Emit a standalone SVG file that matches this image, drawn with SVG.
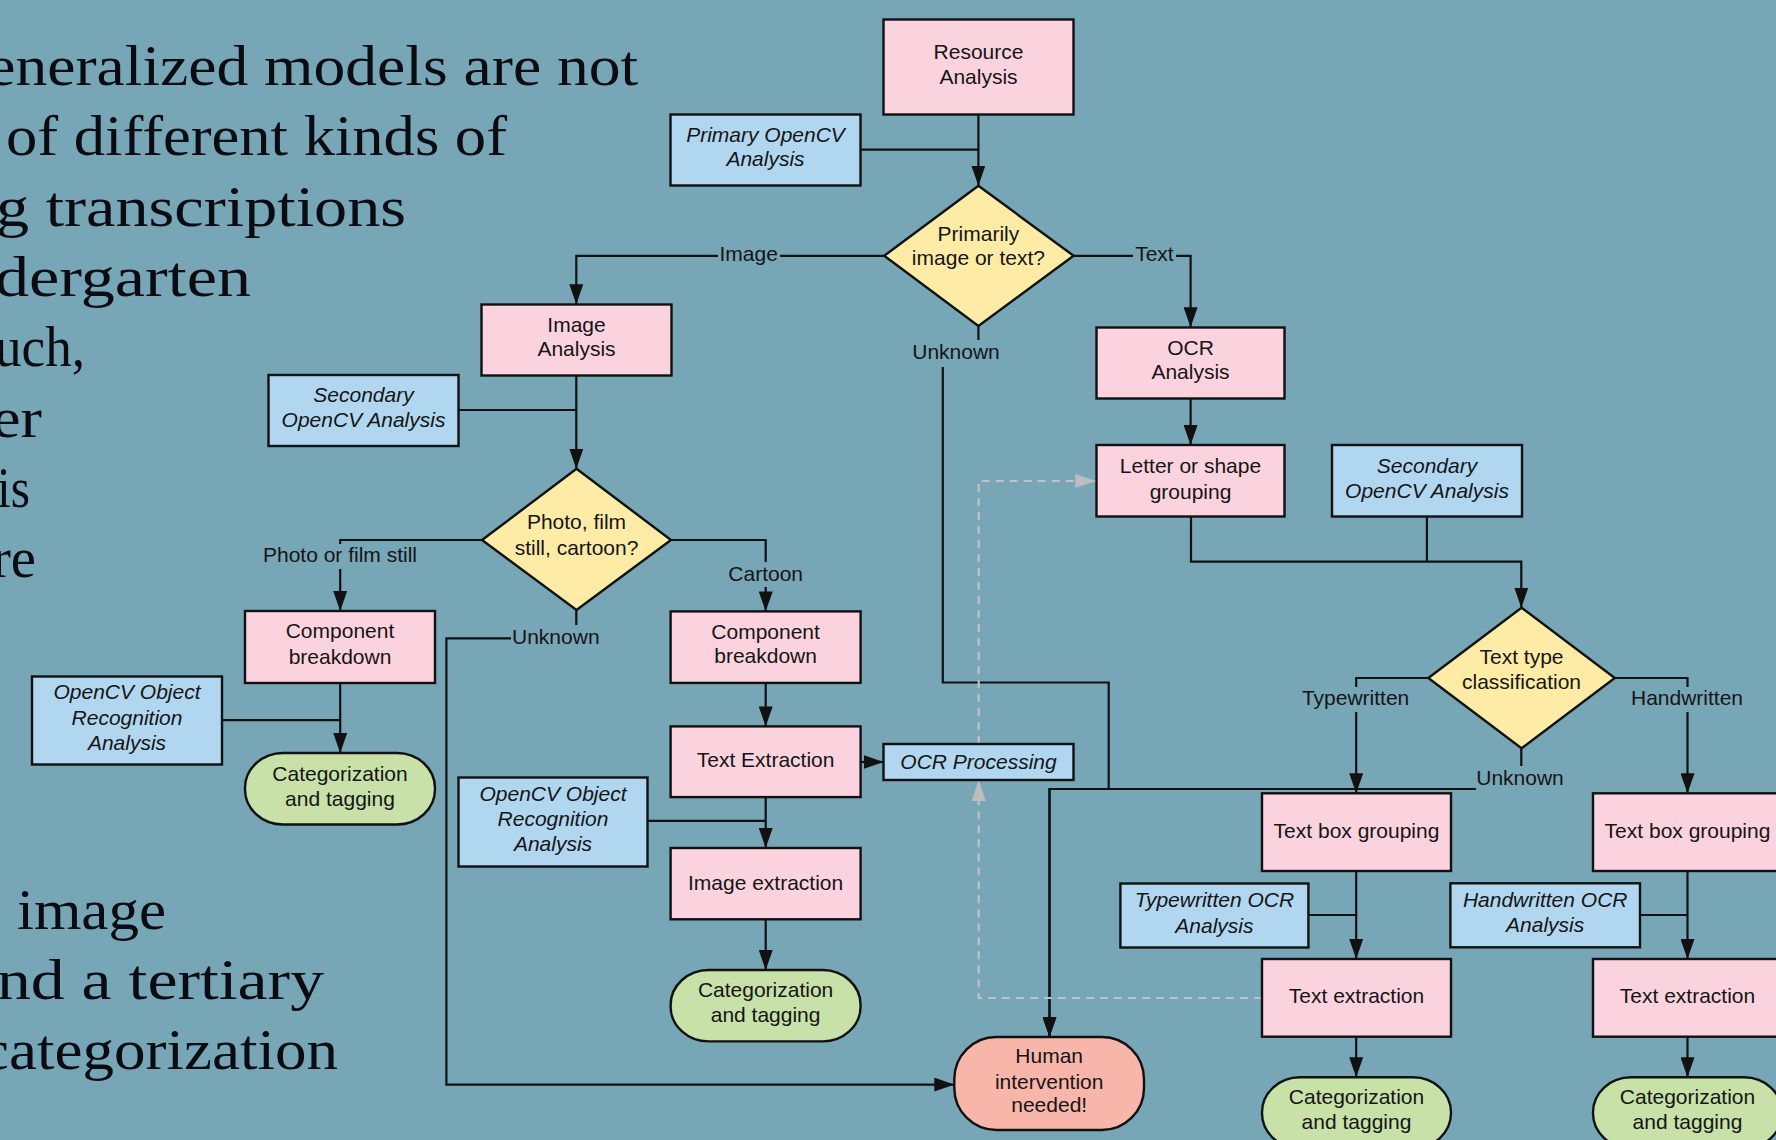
<svg xmlns="http://www.w3.org/2000/svg" width="1776" height="1140" viewBox="0 0 1776 1140">
<defs>
<style>
.bg{fill:#77a6b7}
.serif{font-family:"Liberation Serif","Times New Roman",serif;font-size:58px;fill:#0b0b12}
.pink{fill:#fbd3de;stroke:#111;stroke-width:2.4}
.blue{fill:#b1d7f0;stroke:#111;stroke-width:2.4}
.yellow{fill:#feeca6;stroke:#111;stroke-width:2.4}
.green{fill:#c7e1a8;stroke:#111;stroke-width:2.4}
.salmon{fill:#f8b6aa;stroke:#111;stroke-width:2.4}
.t{font-family:"Liberation Sans",Arial,sans-serif;font-size:21px;fill:#151515;text-anchor:middle}
.i{font-style:italic}
.c{fill:none;stroke:#111;stroke-width:2.2}
.ca{fill:none;stroke:#111;stroke-width:2.2;marker-end:url(#ah)}
.d{fill:none;stroke:#c2c2c2;stroke-width:2.2;stroke-dasharray:8 6;marker-end:url(#gh)}
.lb{fill:#77a6b7}
</style>
<marker id="ah" markerWidth="20" markerHeight="14" refX="20" refY="7" orient="auto" markerUnits="userSpaceOnUse"><path d="M0,0 L20,7 L0,14 z" fill="#111"/></marker>
<marker id="gh" markerWidth="21" markerHeight="14" refX="21" refY="7" orient="auto" markerUnits="userSpaceOnUse"><path d="M0,0 L21,7 L0,14 z" fill="#bdbdbd"/></marker>
</defs>
<rect class="bg" x="0" y="0" width="1776" height="1140"/>

<g id="slide-text" class="serif">
<text x="-12.8" y="85" textLength="651" lengthAdjust="spacingAndGlyphs">eneralized models are not</text>
<text x="6" y="155.3" textLength="501" lengthAdjust="spacingAndGlyphs">of different kinds of</text>
<text x="-4" y="225.6" textLength="410" lengthAdjust="spacingAndGlyphs">g transcriptions</text>
<text x="-5" y="295.9" textLength="256" lengthAdjust="spacingAndGlyphs">dergarten</text>
<text x="-5" y="366.2" textLength="90" lengthAdjust="spacingAndGlyphs">uch,</text>
<text x="-8" y="436.5" textLength="50" lengthAdjust="spacingAndGlyphs">er</text>
<text x="-3" y="506.8" textLength="33" lengthAdjust="spacingAndGlyphs">is</text>
<text x="-8" y="577.1" textLength="44" lengthAdjust="spacingAndGlyphs">re</text>
<text x="17" y="928.6" textLength="149" lengthAdjust="spacingAndGlyphs">image</text>
<text x="-3" y="998.9" textLength="327" lengthAdjust="spacingAndGlyphs">nd a tertiary</text>
<text x="-19" y="1069.2" textLength="357" lengthAdjust="spacingAndGlyphs">categorization</text>
</g>

<g id="connectors">
<path class="ca" d="M978.4,114.3 V185.7"/>
<path class="c" d="M860.5,149.7 H978.4"/>
<path class="ca" d="M884.2,255.8 H576.3 V304.2"/>
<path class="ca" d="M1073.6,255.8 H1190.6 V327.3"/>
<path class="ca" d="M978.4,326 V352 H942.8 V682.5 H1108.7 V789 H1049.5 V1037"/>
<path class="ca" d="M1521.3,748.3 V789 H1049.5 V1037"/>
<path class="ca" d="M576.3,375 V468.8"/>
<path class="c" d="M458.5,410 H576.3"/>
<path class="ca" d="M482,540 H340.2 V611"/>
<path class="ca" d="M671,540 H765.7 V611.4"/>
<path class="ca" d="M576.3,610 V638.4 H446.4 V1084.6 H954.3"/>
<path class="ca" d="M340.2,682.8 V753"/>
<path class="c" d="M222.3,720.2 H340.2"/>
<path class="ca" d="M765.7,682.9 V726.4"/>
<path class="ca" d="M860.6,762 H883.5"/>
<path class="ca" d="M765.7,797 V847.9"/>
<path class="c" d="M647.3,820.8 H765.7"/>
<path class="ca" d="M765.7,919.3 V970"/>
<path class="ca" d="M1190.6,398.3 V445"/>
<path class="ca" d="M1191,516.7 V561.7 H1521.3 V607.7"/>
<path class="c" d="M1426.9,516.7 V561.7"/>
<path class="ca" d="M1428.3,678 H1356.2 V793.3"/>
<path class="ca" d="M1614.8,678 H1687.5 V793.3"/>
<path class="ca" d="M1356.2,871 V959"/>
<path class="c" d="M1308.5,915 H1356.2"/>
<path class="ca" d="M1687.5,871 V959"/>
<path class="c" d="M1640,915 H1687.5"/>
<path class="ca" d="M1356.2,1036.7 V1077.3"/>
<path class="ca" d="M1687.5,1036.7 V1077.3"/>
<path class="d" d="M1262,998 H978.7 V780"/>
<path class="d" d="M978.7,744 V481 H1096.3"/>
</g>

<g id="connector-labels">
<rect class="lb" x="718" y="243" width="62" height="25"/>
<text class="t" x="748.7" y="261">Image</text>
<rect class="lb" x="1133" y="243" width="43" height="25"/>
<text class="t" x="1154.4" y="261">Text</text>
<rect class="lb" x="913" y="340" width="86" height="27"/>
<text class="t" x="956" y="358.7">Unknown</text>
<rect class="lb" x="263" y="544" width="154" height="25"/>
<text class="t" x="340" y="562">Photo or film still</text>
<rect class="lb" x="727" y="562" width="77" height="25"/>
<text class="t" x="765.7" y="581.3">Cartoon</text>
<rect class="lb" x="511" y="625" width="90" height="26"/>
<text class="t" x="555.8" y="643.6">Unknown</text>
<rect class="lb" x="1300" y="687" width="111" height="25"/>
<text class="t" x="1355.6" y="704.7">Typewritten</text>
<rect class="lb" x="1630" y="687" width="114" height="25"/>
<text class="t" x="1687" y="704.7">Handwritten</text>
<rect class="lb" x="1476" y="766" width="89" height="25"/>
<text class="t" x="1520" y="785.3">Unknown</text>
</g>

<g id="resource-analysis"><rect class="pink" x="883.5" y="19.5" width="190" height="95"/><text class="t" x="978.5" y="59">Resource</text><text class="t" x="978.5" y="84">Analysis</text></g>
<g id="primary-opencv"><rect class="blue" x="670.5" y="114.5" width="190" height="71"/><text class="t i" x="765.5" y="142">Primary OpenCV</text><text class="t i" x="765.5" y="166.3">Analysis</text></g>
<g id="primarily-image-or-text"><polygon class="yellow" points="978.4,185.7 1073.6,255.8 978.4,326 884.2,255.8"/><text class="t" x="978.4" y="241.3">Primarily</text><text class="t" x="978.4" y="265.3">image or text?</text></g>
<g id="image-analysis"><rect class="pink" x="481.5" y="304.5" width="190" height="71"/><text class="t" x="576.5" y="331.5">Image</text><text class="t" x="576.5" y="356">Analysis</text></g>
<g id="secondary-opencv-left"><rect class="blue" x="268.5" y="375" width="190" height="71"/><text class="t i" x="363.5" y="402">Secondary</text><text class="t i" x="363.5" y="426.8">OpenCV Analysis</text></g>
<g id="ocr-analysis"><rect class="pink" x="1096.5" y="327.5" width="188" height="71"/><text class="t" x="1190.5" y="354.7">OCR</text><text class="t" x="1190.5" y="379.3">Analysis</text></g>
<g id="letter-grouping"><rect class="pink" x="1096.5" y="445" width="188" height="71.5"/><text class="t" x="1190.5" y="472.7">Letter or shape</text><text class="t" x="1190.5" y="498.7">grouping</text></g>
<g id="secondary-opencv-right"><rect class="blue" x="1332" y="445" width="190" height="71.5"/><text class="t i" x="1427" y="472.7">Secondary</text><text class="t i" x="1427" y="497.7">OpenCV Analysis</text></g>
<g id="photo-film-cartoon"><polygon class="yellow" points="576.5,468.8 671,540 576.5,610 482,540"/><text class="t" x="576.5" y="529.4">Photo, film</text><text class="t" x="576.5" y="555">still, cartoon?</text></g>
<g id="component-breakdown-left"><rect class="pink" x="245" y="611" width="190" height="72"/><text class="t" x="340" y="638.4">Component</text><text class="t" x="340" y="664">breakdown</text></g>
<g id="component-breakdown-right"><rect class="pink" x="670.6" y="611.4" width="190" height="71.5"/><text class="t" x="765.6" y="638.8">Component</text><text class="t" x="765.6" y="663">breakdown</text></g>
<g id="text-type-classification"><polygon class="yellow" points="1521.5,607.7 1614.8,678 1521.5,748.3 1428.3,678"/><text class="t" x="1521.5" y="663.7">Text type</text><text class="t" x="1521.5" y="688.7">classification</text></g>
<g id="opencv-object-left"><rect class="blue" x="32" y="676.5" width="190" height="88"/><text class="t i" x="127" y="699">OpenCV Object</text><text class="t i" x="127" y="725">Recognition</text><text class="t i" x="127" y="750">Analysis</text></g>
<g id="categorization-left"><rect class="green" x="245" y="753" width="190" height="71.5" rx="38" ry="35"/><text class="t" x="340" y="780.8">Categorization</text><text class="t" x="340" y="805.6">and tagging</text></g>
<g id="text-extraction-image"><rect class="pink" x="670.6" y="726.4" width="190" height="70.7"/><text class="t" x="765.6" y="767.4">Text Extraction</text></g>
<g id="ocr-processing"><rect class="blue" x="883.5" y="744" width="190" height="36"/><text class="t i" x="978.5" y="769">OCR Processing</text></g>
<g id="opencv-object-mid"><rect class="blue" x="458.5" y="777.5" width="189" height="89"/><text class="t i" x="553" y="800.8">OpenCV Object</text><text class="t i" x="553" y="826">Recognition</text><text class="t i" x="553" y="851">Analysis</text></g>
<g id="image-extraction"><rect class="pink" x="670.6" y="848" width="190" height="71.3"/><text class="t" x="765.6" y="889.9">Image extraction</text></g>
<g id="categorization-mid"><rect class="green" x="670.6" y="970" width="190" height="71.4" rx="38" ry="35"/><text class="t" x="765.6" y="996.6">Categorization</text><text class="t" x="765.6" y="1022">and tagging</text></g>
<g id="human-intervention"><rect class="salmon" x="954.3" y="1037" width="189.7" height="93" rx="42" ry="42"/><text class="t" x="1049.2" y="1063">Human</text><text class="t" x="1049.2" y="1088.8">intervention</text><text class="t" x="1049.2" y="1112">needed!</text></g>
<g id="text-box-grouping-left"><rect class="pink" x="1262" y="793.3" width="189" height="77.7"/><text class="t" x="1356.5" y="837.7">Text box grouping</text></g>
<g id="text-box-grouping-right"><rect class="pink" x="1593" y="793.3" width="189" height="77.7"/><text class="t" x="1687.5" y="837.7">Text box grouping</text></g>
<g id="typewritten-ocr"><rect class="blue" x="1120.4" y="883.5" width="188" height="64"/><text class="t i" x="1214.4" y="906.6">Typewritten OCR</text><text class="t i" x="1214.4" y="932.7">Analysis</text></g>
<g id="handwritten-ocr"><rect class="blue" x="1450.4" y="883.3" width="189.6" height="64"/><text class="t i" x="1545.2" y="907">Handwritten OCR</text><text class="t i" x="1545.2" y="932">Analysis</text></g>
<g id="text-extraction-left"><rect class="pink" x="1262" y="959" width="189" height="77.7"/><text class="t" x="1356.5" y="1003">Text extraction</text></g>
<g id="text-extraction-right"><rect class="pink" x="1593" y="959" width="189" height="77.7"/><text class="t" x="1687.5" y="1003">Text extraction</text></g>
<g id="categorization-bottom-left"><rect class="green" x="1262" y="1077.3" width="189" height="71" rx="38" ry="35"/><text class="t" x="1356.5" y="1104.3">Categorization</text><text class="t" x="1356.5" y="1128.7">and tagging</text></g>
<g id="categorization-bottom-right"><rect class="green" x="1593" y="1077.3" width="189" height="71" rx="38" ry="35"/><text class="t" x="1687.5" y="1104.3">Categorization</text><text class="t" x="1687.5" y="1128.7">and tagging</text></g>
</svg>
